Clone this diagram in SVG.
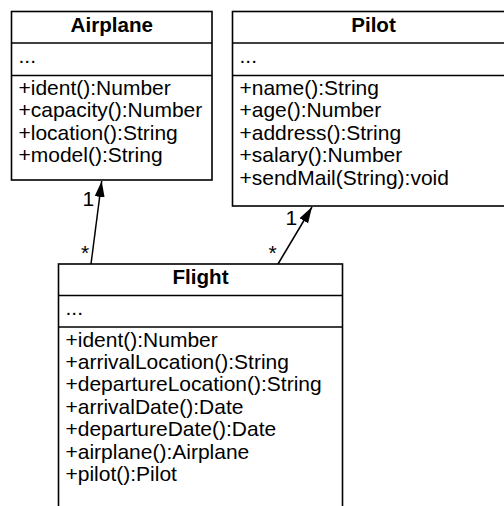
<svg xmlns="http://www.w3.org/2000/svg" width="504" height="506" viewBox="0 0 504 506">
<style>
.box{fill:#fff;stroke:#000;stroke-width:1.6}
.div{stroke:#000;stroke-width:1.6;fill:none}
.t{font-family:"Liberation Sans",Arial,Helvetica,sans-serif;font-size:20px;fill:#000}
.b{font-weight:bold;text-anchor:middle}
.conn{stroke:#000;stroke-width:1.5;fill:none;marker-end:url(#arr)}
</style>
<defs>
<marker id="arr" markerUnits="userSpaceOnUse" markerWidth="17" markerHeight="11" refX="16" refY="5" orient="auto" viewBox="0 0 17 11">
<path d="M0,0 L16,5 L0,10 z" fill="#000"/>
</marker>
</defs>
<rect width="504" height="506" fill="#fff"/>
<g id="airplane">
<rect class="box" x="11.5" y="11.5" width="200.5" height="168.5"/>
<line class="div" x1="11.5" y1="43" x2="212" y2="43"/>
<line class="div" x1="11.5" y1="75.5" x2="212" y2="75.5"/>
<g transform="translate(111.75,0) scale(1.03,1)"><text class="t b" x="0" y="32">Airplane</text></g>
<g transform="translate(18.5,0) scale(1.05,1)">
<text class="t" x="0" y="63">...</text>
<text class="t" x="0" y="95">+ident():Number</text>
<text class="t" x="0" y="117.4">+capacity():Number</text>
<text class="t" x="0" y="139.8">+location():String</text>
<text class="t" x="0" y="162.2">+model():String</text>
</g>
</g>
<g id="pilot">
<rect class="box" x="232.5" y="11.5" width="290" height="194.5"/>
<line class="div" x1="232.5" y1="43" x2="522" y2="43"/>
<line class="div" x1="232.5" y1="75.5" x2="522" y2="75.5"/>
<g transform="translate(373.5,0) scale(1.03,1)"><text class="t b" x="0" y="32">Pilot</text></g>
<g transform="translate(239.5,0) scale(1.05,1)">
<text class="t" x="0" y="63">...</text>
<text class="t" x="0" y="95">+name():String</text>
<text class="t" x="0" y="117.4">+age():Number</text>
<text class="t" x="0" y="139.8">+address():String</text>
<text class="t" x="0" y="162.2">+salary():Number</text>
<text class="t" x="0" y="184.6">+sendMail(String):void</text>
</g>
</g>
<g id="flight">
<rect class="box" x="58.5" y="264" width="284" height="260"/>
<line class="div" x1="58.5" y1="295.5" x2="342.5" y2="295.5"/>
<line class="div" x1="58.5" y1="327" x2="342.5" y2="327"/>
<g transform="translate(200.5,0) scale(1.03,1)"><text class="t b" x="0" y="284.5">Flight</text></g>
<g transform="translate(65.5,0) scale(1.05,1)">
<text class="t" x="0" y="315.5">...</text>
<text class="t" x="0" y="346.7">+ident():Number</text>
<text class="t" x="0" y="369.1">+arrivalLocation():String</text>
<text class="t" x="0" y="391.5">+departureLocation():String</text>
<text class="t" x="0" y="413.9">+arrivalDate():Date</text>
<text class="t" x="0" y="436.3">+departureDate():Date</text>
<text class="t" x="0" y="458.7">+airplane():Airplane</text>
<text class="t" x="0" y="481.1">+pilot():Pilot</text>
</g>
</g>
<g id="connectors">
<path class="conn" d="M91,264 L101.7,181"/>
<path class="conn" d="M278,264 L312,207"/>
<g transform="translate(82.5,0) scale(1.05,1)"><text class="t" x="0" y="206.5">1</text></g>
<g transform="translate(81,0) scale(1.05,1)"><text class="t" x="0" y="260">*</text></g>
<g transform="translate(285.5,0) scale(1.05,1)"><text class="t" x="0" y="225">1</text></g>
<g transform="translate(268.5,0) scale(1.05,1)"><text class="t" x="0" y="260">*</text></g>
</g>
</svg>
